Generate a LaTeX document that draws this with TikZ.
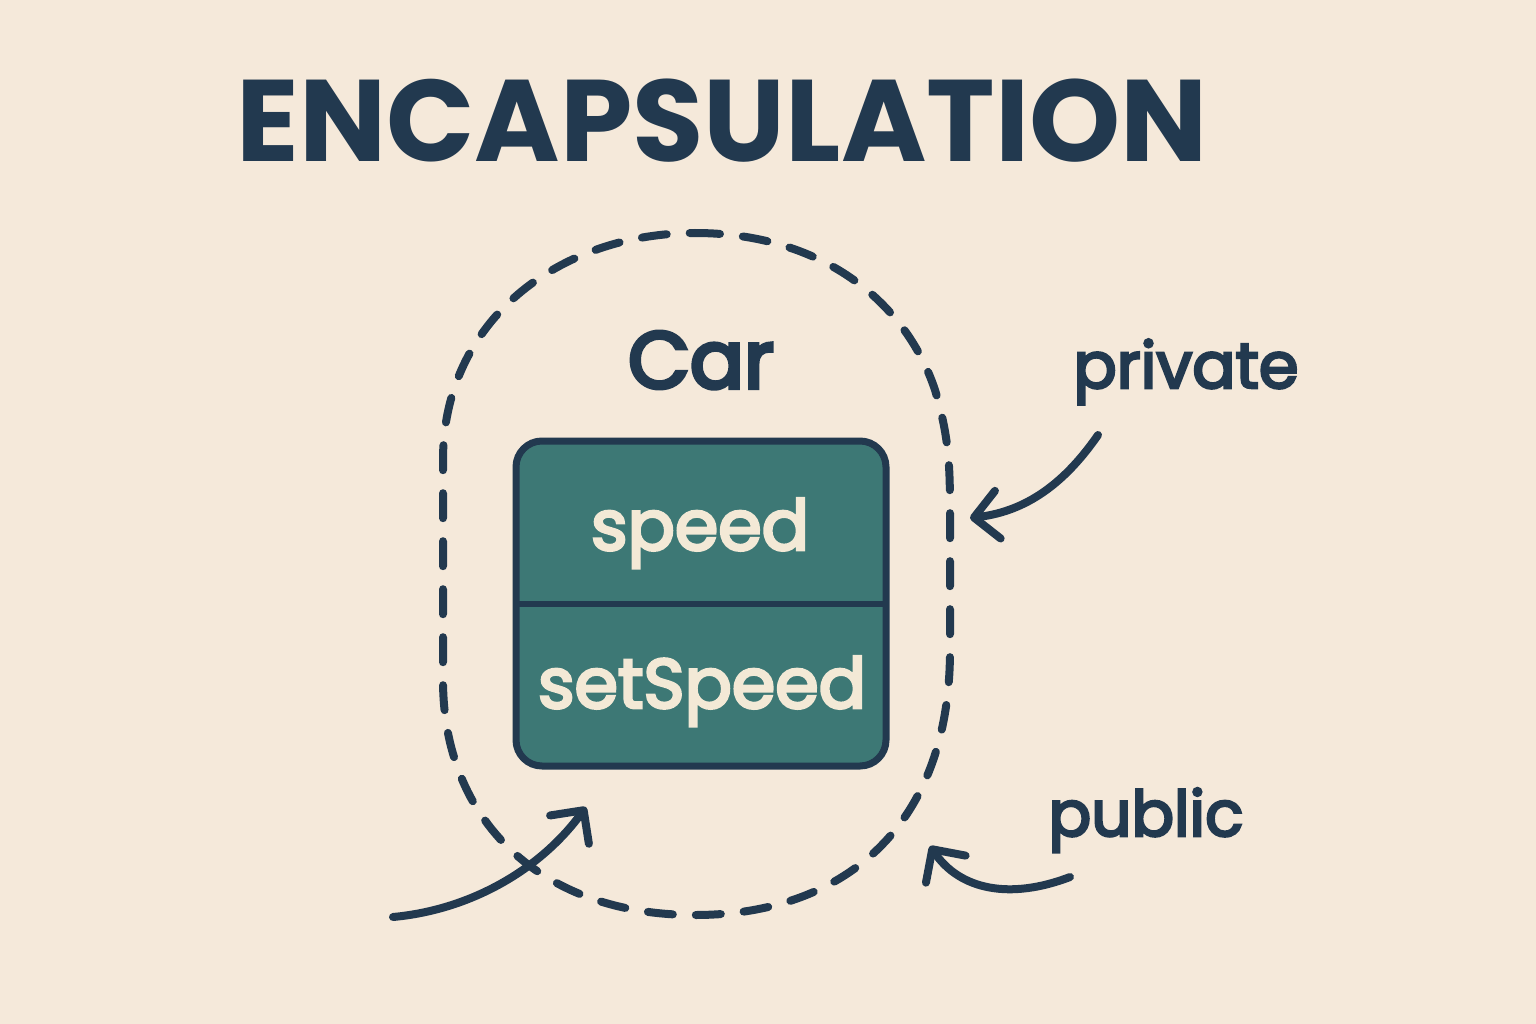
\documentclass[tikz,border=0pt]{standalone}
\usepackage{fontspec}
\setmainfont{Poppins}
\newfontfamily\labfont[FakeBold=4]{Poppins}
\newfontfamily\carfont[FakeBold=5]{Poppins}
\usetikzlibrary{arrows.meta}
\definecolor{bg}{HTML}{F5E9DA}
\definecolor{ink}{HTML}{22394F}
\definecolor{teal}{HTML}{3D7875}
\definecolor{cream}{HTML}{F3E9D6}
\tikzset{
  lbl/.style={text=ink, inner sep=0pt, anchor=base},
  conn/.style={draw=ink, line width=8pt, line cap=round, -{Straight Barb[length=24pt,width=48pt,line width=8pt,round]}},
  loop/.style={draw=ink, line width=8pt, line cap=round, dash pattern=on 25pt off 23pt},
}
\begin{document}
\begin{tikzpicture}[x=1pt,y=-1pt]
\fill[bg] (0,0) rectangle (1536,1024);
\useasboundingbox (0,0) rectangle (1536,1024);
\node[lbl, font=\fontsize{116}{120}\selectfont\bfseries] (title) at (722,162) {ENCAPSULATION};
% dashed enclosure
\draw[loop] (695,233) .. controls (820,233) and (905,300) .. (935,390)
  .. controls (950,440) and (950,470) .. (950,520)
  -- (950,650) .. controls (950,830) and (840,915) .. (695,915)
  .. controls (540,915) and (443,820) .. (443,680)
  -- (443,460) .. controls (443,320) and (560,233) .. (695,233) -- cycle;
\node[lbl, font=\fontsize{80}{90}\carfont] (car) at (701,388) {Car};
% class box
\draw[draw=ink, fill=teal, line width=7pt, rounded corners=26pt] (516,441) rectangle (886,766);
\coordinate (boxL) at (516,604);
\coordinate (boxR) at (886,604);
\draw[ink, line width=6pt] (boxL) -- (boxR);
\node[lbl, text=cream, font=\fontsize{70}{80}\labfont] (speed) at (700,550) {speed};
\node[lbl, text=cream, font=\fontsize{70}{80}\labfont] (setspeed) at (702,708) {setSpeed};
% labels
\node[lbl, font=\fontsize{64}{70}\labfont] (private) at (1186,388) {private};
\node[lbl, font=\fontsize{63}{70}\labfont] (public) at (1146,836) {public};
% arrows
\coordinate (p0) at (1098,435);
\coordinate (p1) at (970,518);
\draw[conn] (p0) .. controls (1060,490) and (1020,512) .. (p1);
\coordinate (q0) at (1070,877);
\coordinate (q1) at (930,846);
\draw[conn] (q0) .. controls (1010,900) and (960,890) .. (q1);
\coordinate (r0) at (393,917);
\coordinate (r1) at (586,807);
\draw[conn] (r0) .. controls (470,910) and (540,870) .. (r1);
\end{tikzpicture}
\end{document}
